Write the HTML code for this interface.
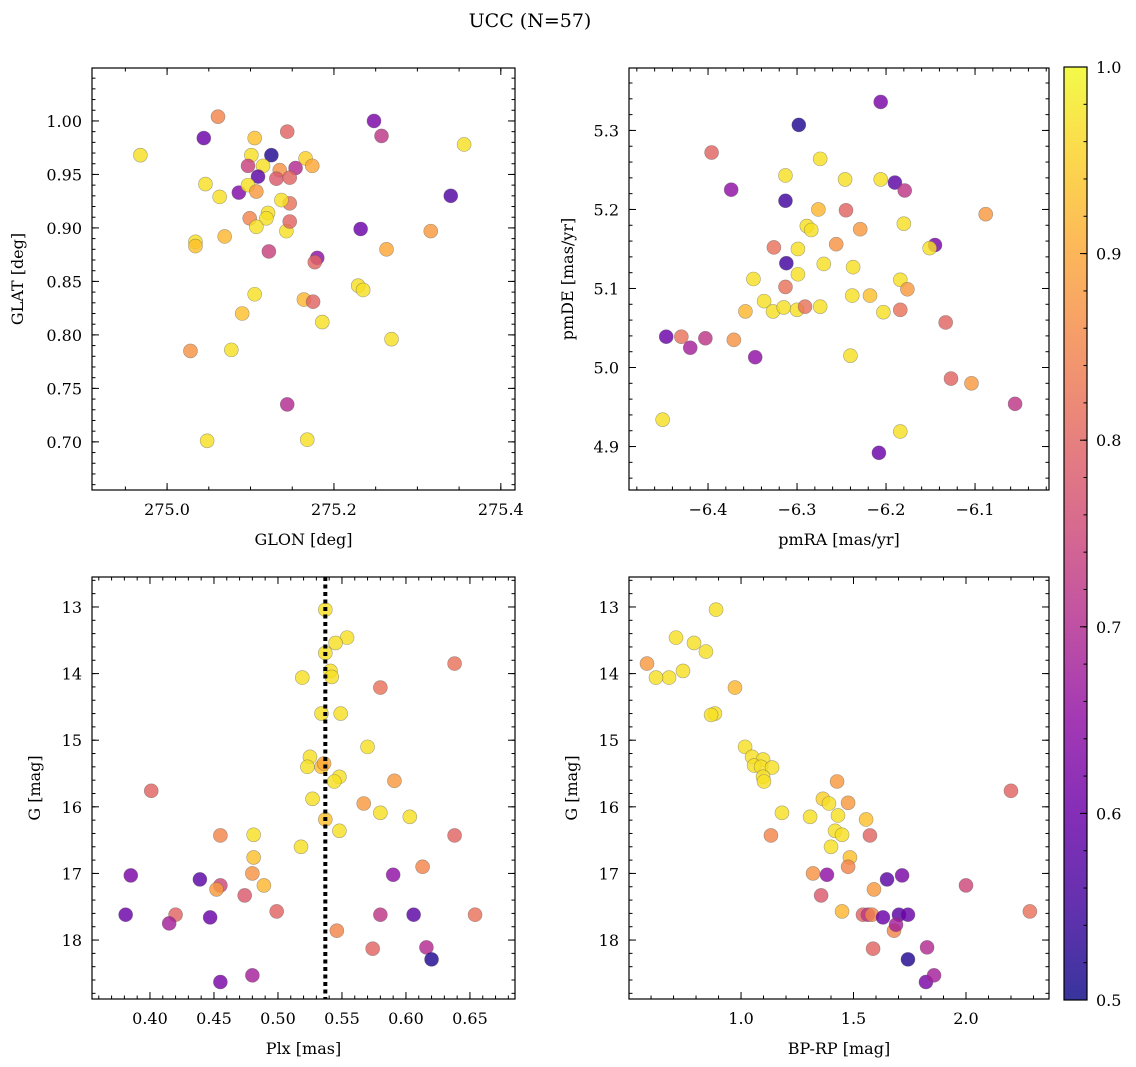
<!DOCTYPE html>
<html><head><meta charset="utf-8"><style>
body{margin:0;background:#fff;}
svg{display:block;font-family:"DejaVu Serif","Liberation Serif",serif;}
</style></head><body>
<svg id="fig" width="1136" height="1067" viewBox="0 0 1136 1067" xmlns="http://www.w3.org/2000/svg">
<text x="530" y="27" font-size="19" text-anchor="middle">UCC (N=57)</text>
</svg>
<script>
// ---- data: [x, y, probability] per panel ----
const glonGlat = [
[274.968,0.968,.97],[275.061,1.004,.85],[275.044,0.984,.6],[275.105,0.984,.93],[275.144,0.990,.8],
[275.248,1.000,.62],[275.257,0.986,.72],[275.356,0.978,.97],[275.101,0.968,.97],[275.125,0.968,.52],
[275.166,0.965,.95],[275.046,0.941,.97],[275.063,0.929,.97],[275.086,0.933,.63],[275.097,0.958,.74],
[275.115,0.958,.97],[275.135,0.954,.87],[275.154,0.956,.7],[275.174,0.958,.9],[275.109,0.948,.58],
[275.097,0.940,.97],[275.107,0.934,.88],[275.131,0.946,.78],[275.147,0.947,.8],[275.147,0.923,.82],
[275.137,0.926,.97],[275.340,0.930,.57],[275.099,0.909,.85],[275.121,0.914,.97],[275.119,0.909,.97],
[275.107,0.901,.97],[275.143,0.897,.97],[275.147,0.906,.8],[275.232,0.899,.6],[275.316,0.897,.88],
[275.034,0.887,.97],[275.034,0.883,.93],[275.069,0.892,.92],[275.122,0.878,.74],[275.180,0.872,.65],
[275.177,0.868,.8],[275.263,0.880,.9],[275.229,0.846,.97],[275.235,0.842,.97],[275.105,0.838,.97],
[275.164,0.833,.92],[275.175,0.831,.8],[275.186,0.812,.97],[275.090,0.820,.93],[275.269,0.796,.97],
[275.028,0.785,.87],[275.077,0.786,.97],[275.144,0.735,.7],[275.048,0.701,.97],[275.168,0.702,.97]];
const pmraPmde = [
[-6.206,5.336,.62],[-6.298,5.307,.52],[-6.396,5.272,.8],[-6.374,5.225,.65],[-6.313,5.243,.97],
[-6.274,5.264,.97],[-6.313,5.211,.55],[-6.276,5.200,.92],[-6.246,5.238,.97],[-6.245,5.199,.8],
[-6.206,5.238,.97],[-6.190,5.234,.58],[-6.179,5.224,.72],[-6.180,5.182,.97],[-6.229,5.175,.88],
[-6.289,5.179,.97],[-6.284,5.174,.97],[-6.326,5.152,.82],[-6.256,5.156,.87],[-6.299,5.150,.97],
[-6.299,5.118,.97],[-6.270,5.131,.97],[-6.237,5.127,.97],[-6.145,5.155,.62],[-6.151,5.151,.97],
[-6.088,5.194,.88],[-6.312,5.132,.55],[-6.349,5.112,.97],[-6.313,5.102,.82],[-6.184,5.111,.97],
[-6.176,5.099,.88],[-6.337,5.084,.97],[-6.218,5.091,.93],[-6.238,5.091,.97],[-6.358,5.071,.92],
[-6.327,5.071,.97],[-6.315,5.076,.97],[-6.300,5.073,.97],[-6.291,5.077,.82],[-6.274,5.077,.97],
[-6.203,5.070,.97],[-6.184,5.073,.82],[-6.430,5.039,.82],[-6.447,5.039,.6],[-6.403,5.037,.72],
[-6.420,5.025,.68],[-6.371,5.035,.87],[-6.347,5.013,.65],[-6.240,5.015,.97],[-6.133,5.057,.8],
[-6.127,4.986,.8],[-6.104,4.980,.88],[-6.055,4.954,.72],[-6.451,4.934,.97],[-6.184,4.919,.97],
[-6.208,4.892,.6]];
const plxG = [
[0.537,13.04,.97],[0.554,13.46,.97],[0.545,13.54,.97],[0.537,13.69,.97],[0.519,14.06,.97],
[0.541,13.96,.97],[0.542,14.05,.97],[0.638,13.85,.82],[0.580,14.21,.82],[0.534,14.60,.97],
[0.549,14.60,.97],[0.570,15.10,.97],[0.525,15.25,.97],[0.523,15.40,.97],[0.534,15.40,.93],
[0.536,15.35,.9],[0.548,15.55,.97],[0.544,15.62,.97],[0.591,15.61,.88],[0.401,15.76,.8],
[0.527,15.88,.97],[0.567,15.95,.88],[0.580,16.09,.97],[0.603,16.15,.97],[0.537,16.19,.93],
[0.548,16.36,.97],[0.455,16.43,.85],[0.481,16.42,.97],[0.638,16.43,.8],[0.518,16.60,.97],
[0.481,16.76,.93],[0.613,16.90,.85],[0.385,17.03,.62],[0.480,17.00,.87],[0.590,17.02,.65],
[0.439,17.09,.58],[0.455,17.18,.75],[0.452,17.24,.88],[0.489,17.18,.92],[0.474,17.33,.78],
[0.499,17.57,.8],[0.381,17.62,.6],[0.420,17.62,.8],[0.447,17.66,.6],[0.415,17.75,.68],
[0.580,17.62,.72],[0.606,17.62,.58],[0.654,17.62,.82],[0.546,17.86,.85],[0.574,18.13,.8],
[0.616,18.11,.7],[0.620,18.29,.52],[0.455,18.63,.62],[0.480,18.53,.68]];
const bprpG = [
[0.889,13.04,.97],[0.711,13.46,.97],[0.791,13.54,.97],[0.844,13.67,.97],[0.742,13.96,.97],
[0.680,14.06,.97],[0.622,14.06,.97],[0.582,13.85,.88],[0.973,14.21,.92],[0.884,14.60,.97],
[0.867,14.62,.97],[1.018,15.10,.97],[1.049,15.25,.97],[1.098,15.29,.97],[1.058,15.38,.97],
[1.089,15.40,.97],[1.138,15.41,.97],[1.098,15.55,.97],[1.102,15.62,.97],[1.427,15.62,.88],
[2.200,15.76,.8],[1.182,16.09,.97],[1.364,15.88,.95],[1.391,15.95,.97],[1.476,15.94,.88],
[1.431,16.13,.97],[1.556,16.19,.93],[1.307,16.15,.97],[1.418,16.36,.97],[1.133,16.43,.85],
[1.449,16.42,.97],[1.573,16.43,.8],[1.400,16.60,.97],[1.484,16.76,.93],[1.476,16.90,.85],
[1.320,17.00,.87],[1.382,17.02,.65],[1.716,17.03,.62],[1.649,17.09,.58],[1.591,17.24,.88],
[2.000,17.18,.75],[1.356,17.33,.78],[1.449,17.57,.92],[1.542,17.62,.8],[1.564,17.62,.72],
[1.582,17.62,.85],[2.284,17.57,.82],[1.702,17.62,.58],[1.631,17.66,.6],[1.742,17.62,.6],
[1.680,17.86,.85],[1.689,17.77,.68],[1.587,18.13,.8],[1.827,18.11,.7],[1.742,18.29,.52],
[1.822,18.63,.62],[1.858,18.53,.68]];
const plxLine = [0.537];
const cbTicks = [0.5,0.6,0.7,0.8,0.9,1.0];

const NS="http://www.w3.org/2000/svg";
const svg=document.getElementById('fig');
function el(t,a,p){const e=document.createElementNS(NS,t);for(const k in a)e.setAttribute(k,a[k]);(p||svg).appendChild(e);return e;}
const plasma=[[13,8,135],[65,4,157],[106,0,168],[143,13,164],[177,42,144],[204,71,120],[225,100,98],[242,132,75],[252,166,54],[252,206,37],[240,249,33]];
function cmap(v){let t=Math.max(0,Math.min(1,(v-0.5)/0.5))*10;let i=Math.min(9,Math.floor(t)),f=t-i;const a=plasma[i],b=plasma[i+1];
return 'rgb('+a.map((c,k)=>Math.round(c+(b[k]-c)*f)).join(',')+')';}
function fmt(v,d){let s=v.toFixed(d);return s.replace('-','\u2212');}

function panel(o){
  const g=el('g',{});
  
  
  const X=v=>o.x0+(v-o.xd[0])/(o.xd[1]-o.xd[0])*(o.x1-o.x0);
  const Y=o.inv?v=>o.y0+(v-o.yd[0])/(o.yd[1]-o.yd[0])*(o.y1-o.y0):v=>o.y1-(v-o.yd[0])/(o.yd[1]-o.yd[0])*(o.y1-o.y0);
  o.data.forEach(d=>{const c=el('circle',{cx:X(d[0]),cy:Y(d[1]),r:7,fill:cmap(d[2]),'fill-opacity':0.82,stroke:'#555','stroke-opacity':0.5,'stroke-width':0.6},g);
    
    });
  if(o.vline){const l=el('line',{x1:X(o.vline),x2:X(o.vline),y1:o.y0,y2:o.y1,stroke:'#000','stroke-width':4,'stroke-dasharray':'4 3.5'},g);
    
    }
  const tk=(a,b,st,maj,len)=>{for(let v=Math.ceil(a/st-1e-6)*st;v<=b+1e-9;v+=st){maj(v,len);} };
  const xt=(v,len)=>{const x=X(v);el('line',{x1:x,x2:x,y1:o.y1,y2:o.y1-len,stroke:'#000','stroke-width':1},g);el('line',{x1:x,x2:x,y1:o.y0,y2:o.y0+len,stroke:'#000','stroke-width':1},g);};
  const yt=(v,len)=>{const y=Y(v);el('line',{x1:o.x0,x2:o.x0+len,y1:y,y2:y,stroke:'#000','stroke-width':1},g);el('line',{x1:o.x1,x2:o.x1-len,y1:y,y2:y,stroke:'#000','stroke-width':1},g);};
  tk(o.xd[0],o.xd[1],o.xmin,xt,3.5);tk(o.xd[0],o.xd[1],o.xmaj,xt,7);
  tk(Math.min(...o.yd),Math.max(...o.yd),o.ymin,yt,3.5);tk(Math.min(...o.yd),Math.max(...o.yd),o.ymaj,yt,7);
  for(let v=Math.ceil(o.xd[0]/o.xmaj-1e-6)*o.xmaj;v<=o.xd[1]+1e-9;v+=o.xmaj){
    const t=el('text',{x:X(v),y:o.y1+25,'font-size':16,'text-anchor':'middle'},g);t.textContent=fmt(v,o.xdec);
    
    }
  const ya=Math.min(...o.yd),yb=Math.max(...o.yd);
  for(let v=Math.ceil(ya/o.ymaj-1e-6)*o.ymaj;v<=yb+1e-9;v+=o.ymaj){
    const t=el('text',{x:o.x0-10,y:Y(v)+6,'font-size':16,'text-anchor':'end'},g);t.textContent=fmt(v,o.ydec);
    
    }
  const fr=el('rect',{x:o.x0,y:o.y0,width:o.x1-o.x0,height:o.y1-o.y0,fill:'none',stroke:'#000','stroke-width':1.2},g);
  
  
  const xl=el('text',{x:(o.x0+o.x1)/2,y:o.y1+55,'font-size':16,'text-anchor':'middle'},g);xl.textContent=o.xl;
  
  
  const yx=o.ylx,yy=(o.y0+o.y1)/2;
  const yl=el('text',{x:yx,y:yy,'font-size':16,'text-anchor':'middle',transform:'rotate(-90 '+yx+' '+yy+')'},g);yl.textContent=o.yl;
  
  
}
panel({name:'glon-glat-panel',data:glonGlat,x0:92,x1:515,y0:68,y1:490,xd:[274.910,275.417],yd:[0.655,1.0495],xmaj:0.2,xmin:0.05,ymaj:0.05,ymin:0.01,xdec:1,ydec:2,xl:'GLON [deg]',yl:'GLAT [deg]',ylx:23});
panel({name:'pm-panel',data:pmraPmde,x0:629,x1:1049,y0:68,y1:490,xd:[-6.4888,-6.0169],yd:[4.845,5.379],xmaj:0.1,xmin:0.02,ymaj:0.1,ymin:0.02,xdec:1,ydec:1,xl:'pmRA [mas/yr]',yl:'pmDE [mas/yr]',ylx:573});
panel({name:'plx-g-panel',data:plxG,vline:plxLine[0],inv:true,x0:92,x1:515,y0:577,y1:999,xd:[0.3547,0.6852],yd:[12.55,18.885],xmaj:0.05,xmin:0.01,ymaj:1,ymin:0.2,xdec:2,ydec:0,xl:'Plx [mas]',yl:'G [mag]',ylx:40});
panel({name:'cmd-panel',data:bprpG,inv:true,x0:629,x1:1049,y0:577,y1:999,xd:[0.502,2.369],yd:[12.55,18.885],xmaj:0.5,xmin:0.1,ymaj:1,ymin:0.2,xdec:1,ydec:0,xl:'BP-RP [mag]',yl:'G [mag]',ylx:577});

const defs=el('defs',{});
const lg=el('linearGradient',{id:'cbg',x1:0,y1:1,x2:0,y2:0},defs);
plasma.forEach((c,i)=>el('stop',{offset:i/10,'stop-color':'rgb('+c.join(',')+')','stop-opacity':0.82},lg));
const cb=el('g',{});


const cy0=67,cy1=1000,cx0=1064,cx1=1087;
const CY=v=>cy1-(v-0.5)/0.5*(cy1-cy0);
el('rect',{x:cx0,y:cy0,width:cx1-cx0,height:cy1-cy0,fill:'url(#cbg)',stroke:'#000','stroke-width':1.2},cb);
for(let v=0.5;v<=1.0001;v+=0.02){const y=CY(v);el('line',{x1:cx1,x2:cx1-3.5,y1:y,y2:y,stroke:'#000'},cb);}
cbTicks.forEach(v=>{const y=CY(v);el('line',{x1:cx1,x2:cx1-7,y1:y,y2:y,stroke:'#000'},cb);
  const t=el('text',{x:cx1+9,y:y+6,'font-size':16},cb);t.textContent=v.toFixed(1);
  
  });
</script>
</body></html>
